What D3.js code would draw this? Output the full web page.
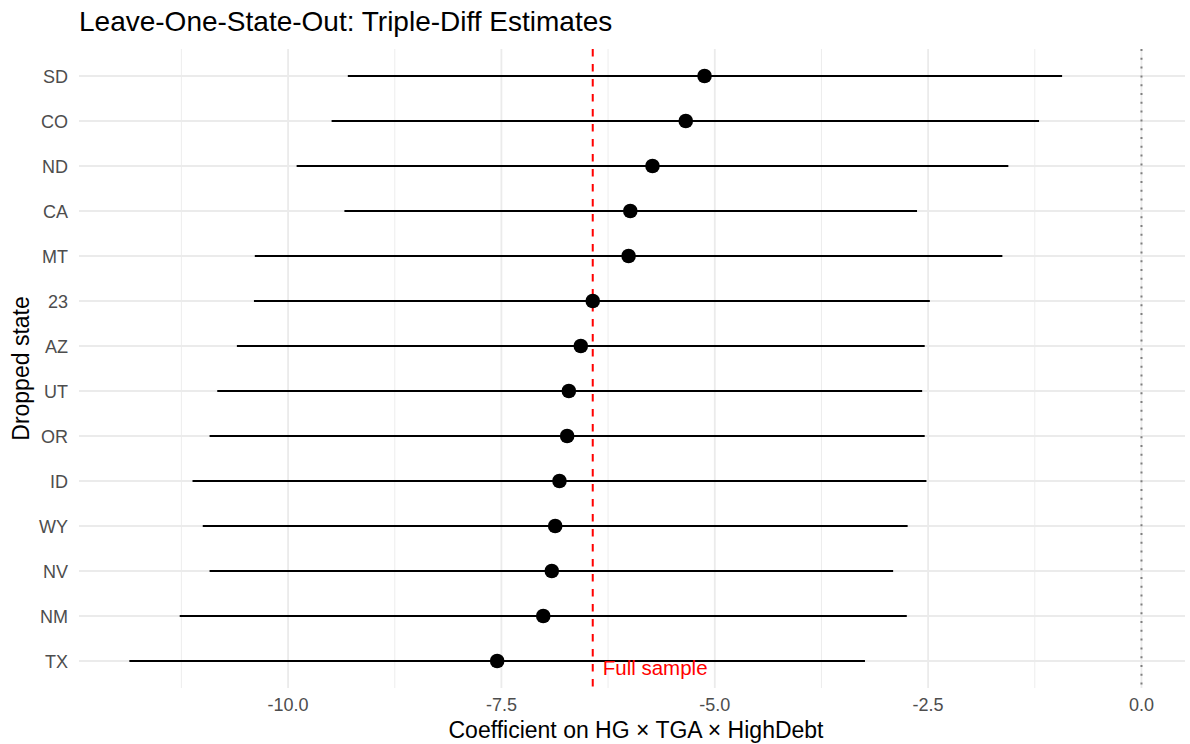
<!DOCTYPE html>
<meta charset="utf-8">
<style>
body { margin: 0; background: #fff; }
svg text { font-family: "Liberation Sans", Arial, Helvetica, sans-serif; }
.tick-label { fill: #4d4d4d; font-size: 18px; }
.axis-title { fill: #000; font-size: 23px; }
.grid-major { stroke: #ebebeb; stroke-width: 1.8px; }
.grid-minor { stroke: #ebebeb; stroke-width: 0.9px; }
</style>
<svg width="1190" height="744"></svg>
<script src="https://d3js.org/d3.v7.min.js"></script>
<script>

// dropped state, point estimate and confidence interval
var states = ["SD", "CO", "ND", "CA", "MT", "23", "AZ", "UT", "OR", "ID", "WY", "NV", "NM", "TX"];
var estimate = [-5.12, -5.34, -5.73, -5.99, -6.01, -6.43, -6.57, -6.71, -6.73, -6.82, -6.87, -6.91, -7.01, -7.55];
var lower = [-9.30, -9.49, -9.90, -9.34, -10.39, -10.40, -10.60, -10.83, -10.92, -11.12, -11.00, -10.92, -11.27, -11.86];
var upper = [-0.93, -1.20, -1.56, -2.63, -1.63, -2.48, -2.54, -2.57, -2.54, -2.52, -2.74, -2.91, -2.75, -3.24];
var fullSample = -6.43;

var xTicks = [-10, -7.5, -5, -2.5, 0];
var xMinor = [-11.25, -8.75, -6.25, -3.75, -1.25];

var rows = states.map(function(s, i) {
  return { state: s, est: estimate[i], lo: lower[i], hi: upper[i] };
});

var svg = d3.select("svg"),
    panel = { left: 79, right: 1185, top: 49, bottom: 688 };

var x = d3.scaleLinear()
    .domain([-12.45, 0.51])
    .range([panel.left, panel.right]);

var y = d3.scalePoint()
    .domain(states)
    .range([panel.top, panel.bottom])
    .padding(0.6);

var fmt = function(d) { return d3.format(".1f")(d).replace("\u2212", "-"); };

// grid
svg.append("g").selectAll("line")
  .data(xMinor)
  .enter().append("line")
    .attr("class", "grid-minor")
    .attr("x1", x).attr("x2", x)
    .attr("y1", panel.top).attr("y2", panel.bottom);

svg.append("g").selectAll("line")
  .data(xTicks)
  .enter().append("line")
    .attr("class", "grid-major")
    .attr("x1", x).attr("x2", x)
    .attr("y1", panel.top).attr("y2", panel.bottom);

svg.append("g").selectAll("line")
  .data(states)
  .enter().append("line")
    .attr("class", "grid-major")
    .attr("x1", panel.left).attr("x2", panel.right)
    .attr("y1", y).attr("y2", y);

// reference lines
svg.append("line")
    .attr("x1", x(0)).attr("x2", x(0))
    .attr("y1", panel.top).attr("y2", panel.bottom)
    .attr("stroke", "#7f7f7f")
    .attr("stroke-width", 2)
    .attr("stroke-dasharray", "2,6.8");

svg.append("line")
    .attr("x1", x(fullSample)).attr("x2", x(fullSample))
    .attr("y1", panel.top).attr("y2", panel.bottom)
    .attr("stroke", "#ff0000")
    .attr("stroke-width", 2)
    .attr("stroke-dasharray", "7.5,7.5");

// intervals and points
svg.append("g").selectAll("line")
  .data(rows)
  .enter().append("line")
    .attr("x1", function(d) { return x(d.lo); })
    .attr("x2", function(d) { return x(d.hi); })
    .attr("y1", function(d) { return y(d.state); })
    .attr("y2", function(d) { return y(d.state); })
    .attr("stroke", "#000")
    .attr("stroke-width", 2.2);

svg.append("g").selectAll("circle")
  .data(rows)
  .enter().append("circle")
    .attr("cx", function(d) { return x(d.est); })
    .attr("cy", function(d) { return y(d.state); })
    .attr("r", 7.3)
    .attr("fill", "#000");

svg.append("text")
    .attr("x", x(fullSample) + 10)
    .attr("y", y("TX") + 14)
    .attr("fill", "#ff0000")
    .style("font-size", "20.5px")
    .text("Full sample");

// axis labels
svg.append("g").selectAll("text")
  .data(xTicks)
  .enter().append("text")
    .attr("class", "tick-label")
    .attr("x", x)
    .attr("y", 711)
    .attr("text-anchor", "middle")
    .text(fmt);

svg.append("g").selectAll("text")
  .data(states)
  .enter().append("text")
    .attr("class", "tick-label")
    .attr("x", 68)
    .attr("y", function(d) { return y(d) + 6.5; })
    .attr("text-anchor", "end")
    .text(function(d) { return d; });

svg.append("text")
    .attr("class", "axis-title")
    .attr("x", 636)
    .attr("y", 738)
    .attr("text-anchor", "middle")
    .text("Coefficient on HG \u00d7 TGA \u00d7 HighDebt");

svg.append("text")
    .attr("class", "axis-title")
    .attr("transform", "translate(29," + ((panel.top + panel.bottom) / 2) + ") rotate(-90)")
    .attr("text-anchor", "middle")
    .text("Dropped state");

svg.append("text")
    .attr("x", panel.left)
    .attr("y", 31)
    .style("font-size", "28px")
    .text("Leave-One-State-Out: Triple-Diff Estimates");

</script>
